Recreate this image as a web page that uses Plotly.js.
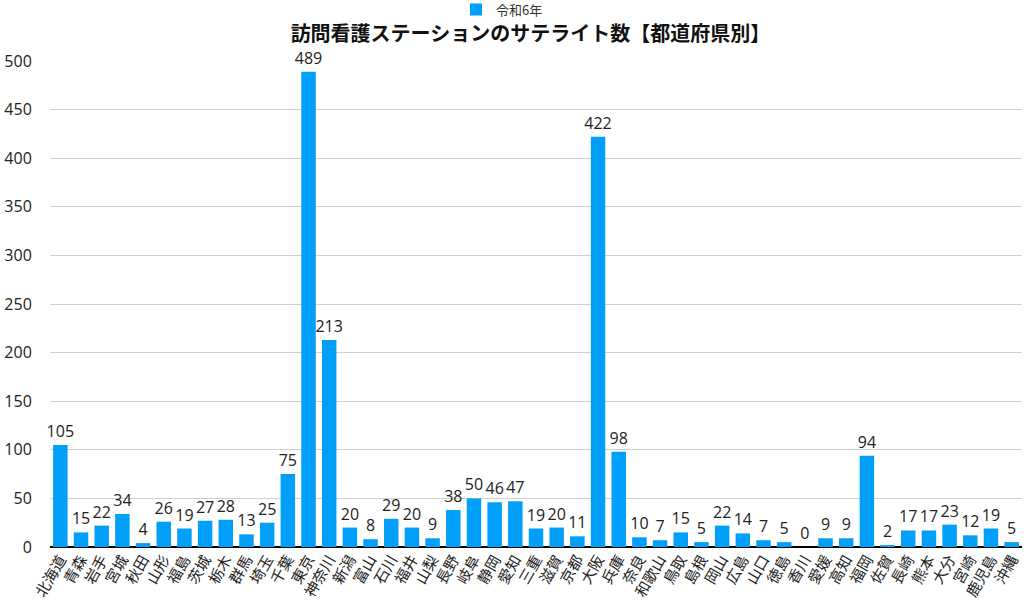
<!DOCTYPE html>
<html>
<head>
<meta charset="utf-8">
<script src="https://cdn.plot.ly/plotly-3.0.1.min.js"></script>
<style>html,body{margin:0;padding:0;background:#fff;}#chart{width:1024px;height:605px;}</style>
</head>
<body>
<div id="chart"></div>
<script>
const prefectures = ["北海道","青森","岩手","宮城","秋田","山形","福島","茨城","栃木","群馬","埼玉","千葉","東京","神奈川","新潟","富山","石川","福井","山梨","長野","岐阜","静岡","愛知","三重","滋賀","京都","大阪","兵庫","奈良","和歌山","鳥取","島根","岡山","広島","山口","徳島","香川","愛媛","高知","福岡","佐賀","長崎","熊本","大分","宮崎","鹿児島","沖縄"];
const satellites = [105,15,22,34,4,26,19,27,28,13,25,75,489,213,20,8,29,20,9,38,50,46,47,19,20,11,422,98,10,7,15,5,22,14,7,5,0,9,9,94,2,17,17,23,12,19,5];
const seriesName = "令和6年";
const yTicks = [0,50,100,150,200,250,300,350,400,450,500];

const font = '"Noto Sans CJK JP", "Noto Sans", sans-serif';
const numFont = '"Open Sans", "Noto Sans", sans-serif';
const trace = {
  type: 'bar',
  x: prefectures,
  y: satellites,
  name: seriesName,
  marker: {color: '#00a0fa'},
  text: satellites.map(String),
  textposition: 'outside',
  constraintext: 'none',
  textfont: {family: numFont, size: 16, color: '#222'},
  cliponaxis: false,
  showlegend: true
};
const layout = {
  width: 1024, height: 605,
  margin: {l: 50, r: 2, t: 61, b: 58, autoexpand: false},
  paper_bgcolor: '#fff', plot_bgcolor: '#fff',
  font: {family: font, color: '#222'},
  bargap: 0.3,
  title: {text: '<b>訪問看護ステーションのサテライト数【都道府県別】</b>', x: 0.518, xanchor: 'center', y: 0.943, yanchor: 'middle', automargin: false, font: {family: font, size: 20, color: '#111'}},
  showlegend: true,
  legend: {orientation: 'h', x: 0.465, xanchor: 'center', y: 1.106, yanchor: 'middle', bgcolor: 'rgba(0,0,0,0)', font: {family: font, size: 13, color: '#333'}},
  xaxis: {
    type: 'category', tickvals: prefectures, ticktext: prefectures,
    tickangle: -60, tickfont: {family: font, size: 15, color: '#222'},
    showgrid: false, showline: false, ticks: '', automargin: false
  },
  yaxis: {
    range: [0, 500], tickvals: yTicks, ticktext: yTicks.map(String),
    tickfont: {family: numFont, size: 16, color: '#222'},
    showgrid: true, gridcolor: '#d0d0d0', gridwidth: 1,
    zeroline: true, zerolinecolor: '#000', zerolinewidth: 2,
    ticks: 'outside', ticklen: 14, tickcolor: 'rgba(0,0,0,0)', showline: false, automargin: false
  }
};
Plotly.newPlot('chart', [trace], layout, {displayModeBar: false, staticPlot: true});
</script>
</body>
</html>
